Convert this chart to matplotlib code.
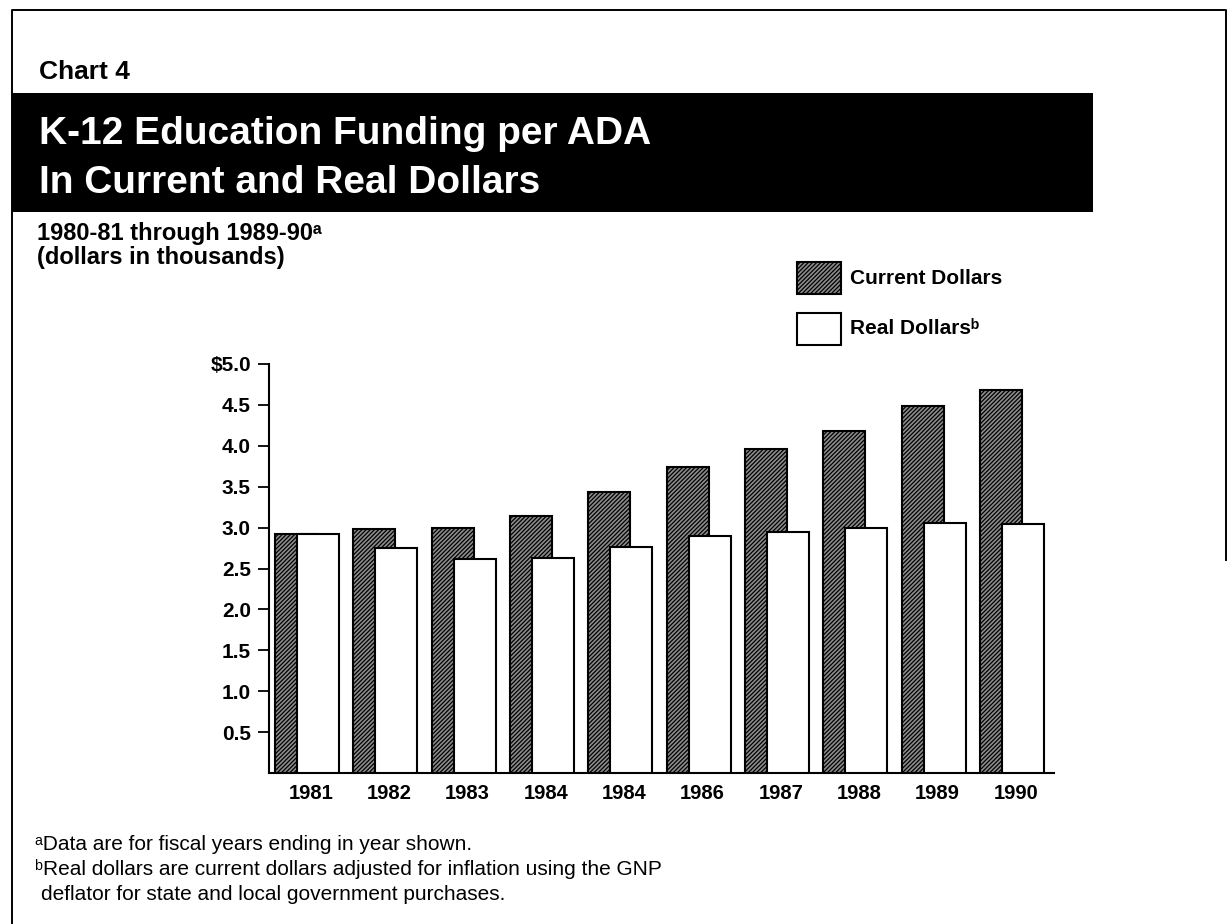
import matplotlib
matplotlib.use("Agg")
import matplotlib.pyplot as plt
from matplotlib.patches import Rectangle
from matplotlib.lines import Line2D
import numpy as np

plt.rcParams['font.family'] = ['Liberation Sans', 'DejaVu Sans']
plt.rcParams['hatch.linewidth'] = 0.9

# funding per ADA, dollars in thousands
years = ['1981', '1982', '1983', '1984', '1984', '1986', '1987', '1988', '1989', '1990']
current_dollars = [2.92, 2.98, 2.99, 3.14, 3.44, 3.74, 3.96, 4.18, 4.49, 4.68]
real_dollars = [2.92, 2.75, 2.62, 2.63, 2.76, 2.90, 2.95, 2.99, 3.06, 3.04]
yticks = [0.5, 1.0, 1.5, 2.0, 2.5, 3.0, 3.5, 4.0, 4.5, 5.0]

W, H = 1230, 924
fig = plt.figure(figsize=(W / 100, H / 100), dpi=100)
fig.patch.set_facecolor('white')


def fx(x):
    return x / W


def fy(y):
    return 1 - y / H


# page frame and black title band
fig.add_artist(Line2D([fx(12), fx(12), fx(1226), fx(1226)],
                      [fy(924), fy(10), fy(10), fy(560)],
                      color='black', lw=1.4, transform=fig.transFigure))
fig.add_artist(Rectangle((fx(12), fy(212)), fx(1093) - fx(12), fy(93) - fy(212),
                         facecolor='black', edgecolor='none', transform=fig.transFigure))

fig.text(fx(39), fy(79), 'Chart 4', fontsize=19, fontweight='bold', va='baseline')
fig.text(fx(39), fy(144), 'K-12 Education Funding per ADA', fontsize=28,
         fontweight='bold', color='white', va='baseline')
fig.text(fx(39), fy(193), 'In Current and Real Dollars', fontsize=28,
         fontweight='bold', color='white', va='baseline')
fig.text(fx(37), fy(240), '1980-81 through 1989-90\u1d43', fontsize=17,
         fontweight='bold', va='baseline')
fig.text(fx(37), fy(264), '(dollars in thousands)', fontsize=17,
         fontweight='bold', va='baseline')

cur_style = dict(facecolor='#8c8c8c', edgecolor='black', hatch='////////', linewidth=1.5)
real_style = dict(facecolor='white', edgecolor='black', linewidth=1.5)

# legend
fig.add_artist(Rectangle((fx(797), fy(294)), fx(841) - fx(797), fy(262) - fy(294),
                         transform=fig.transFigure, **cur_style))
fig.add_artist(Rectangle((fx(797), fy(345)), fx(841) - fx(797), fy(313) - fy(345),
                         transform=fig.transFigure, **real_style))
fig.text(fx(850), fy(278), 'Current Dollars', fontsize=15, fontweight='bold', va='center')
fig.text(fx(850), fy(328), 'Real Dollars\u1d47', fontsize=15, fontweight='bold', va='center')

# bar chart
ax = fig.add_axes([fx(269), fy(773), fx(1054) - fx(269), fy(364) - fy(773)])
x = np.arange(len(years))
w = 0.536
ax.bar(x - 0.14, current_dollars, w, zorder=2, **cur_style)
ax.bar(x + 0.14, real_dollars, w, zorder=3, **real_style)

ax.set_xlim(-0.485, 9.536)
ax.set_ylim(0, 5.0)
ax.spines['top'].set_visible(False)
ax.spines['right'].set_visible(False)
ax.spines['left'].set_linewidth(1.5)
ax.spines['bottom'].set_linewidth(1.5)

ax.set_yticks(yticks)
ax.set_yticklabels(['$%.1f' % v if v == 5.0 else '%.1f' % v for v in yticks],
                   fontsize=15, fontweight='bold')
ax.tick_params(axis='y', direction='out', length=8, width=1.3, pad=5)
ax.set_xticks(x + 0.05)
ax.set_xticklabels(years, fontsize=14.5, fontweight='bold')
ax.tick_params(axis='x', length=0, pad=8)

# footnotes
fig.text(fx(35), fy(850), '\u1d43Data are for fiscal years ending in year shown.',
         fontsize=15, va='baseline')
fig.text(fx(35), fy(875), '\u1d47Real dollars are current dollars adjusted for inflation using the GNP',
         fontsize=15, va='baseline')
fig.text(fx(41), fy(900), 'deflator for state and local government purchases.',
         fontsize=15, va='baseline')

fig.savefig('out.png', dpi=100)
